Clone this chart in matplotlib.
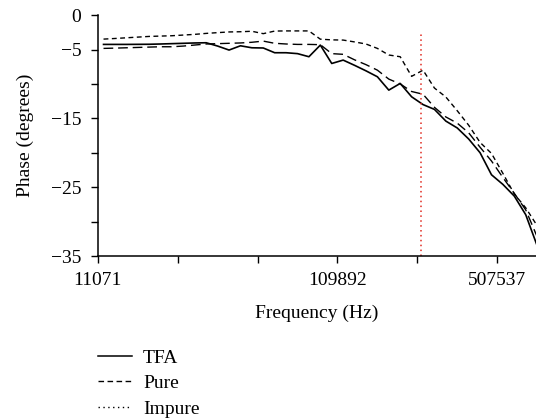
# Phase vs frequency for TFA, pure and impure samples

import numpy as np
import matplotlib.pyplot as plt
from matplotlib.lines import Line2D

plt.rcParams['font.family'] = ['Liberation Serif', 'DejaVu Serif']
plt.rcParams['font.size'] = 14

# Phase in degrees, one value per frequency step
TFA = [-4.26, -4.26, -4.26, -4.25, -4.24, -4.2, -4.15, -4.1, -4.05, -4.02,
       -4.5, -5.08, -4.46, -4.75, -4.78, -5.47, -5.47, -5.6, -6.05, -4.36,
       -7.03, -6.54, -7.3, -8.1, -8.96, -10.9, -9.93, -11.87, -13.0, -13.7,
       -15.4, -16.4, -18.0, -20.0, -23.2, -24.6, -26.3, -29.0, -33.5]
Pure = [-4.84, -4.8, -4.75, -4.7, -4.65, -4.6, -4.6, -4.5, -4.35, -4.2,
        -4.15, -4.1, -4.05, -3.95, -3.78, -4.1, -4.2, -4.26, -4.26, -4.3,
        -5.6, -5.7, -6.5, -7.2, -8.0, -9.3, -10.0, -11.1, -11.5, -13.4,
        -14.8, -15.7, -17.1, -19.2, -21.2, -23.6, -25.9, -28.3, -32.2]
Impure = [-3.49, -3.4, -3.3, -3.2, -3.1, -3.05, -3.0, -2.9, -2.8, -2.66,
          -2.55, -2.45, -2.42, -2.35, -2.7, -2.32, -2.3, -2.3, -2.3, -3.5,
          -3.6, -3.63, -3.9, -4.2, -4.84, -5.8, -6.05, -8.9, -8.0, -10.6,
          -11.9, -13.9, -16.0, -18.5, -20.1, -23.0, -26.0, -28.0, -30.6]

TickIdx = [0, 7, 14, 21, 28, 35]          # category boundaries with tick marks
TickLab = ['11071', '', '', '109892', '', '507537']
YTicks = [0, -5, -10, -15, -20, -25, -30, -35]
YLab = ['0', '\u22125', '', '\u221215', '', '\u221225', '', '\u221235']
Marker = 28.35   # red reference line (category units)

x = np.arange(len(TFA)) + 0.5   # points sit between the category ticks

fig = plt.figure(figsize=(5.36, 4.19), dpi=100)
ax = fig.add_axes([0.1825, 0.389, 0.8175, 0.575])

ax.plot(x, TFA, color='black', linewidth=1.2)
ax.plot(x, Pure, color='black', linewidth=1.0, dashes=(7, 3.5))
ax.plot(x, Impure, color='black', linewidth=1.0, dashes=(3.5, 2.5))
ax.plot([Marker, Marker], [-35, -2.4], color='#e02a20', linewidth=1.1, dashes=(1, 2.2))

ax.set_xlim(0, 38.4)
ax.set_ylim(-35, 0)
ax.set_xticks(TickIdx)
ax.set_xticklabels(TickLab)
ax.set_yticks(YTicks)
ax.set_yticklabels(YLab)
ax.tick_params(direction='out', length=5, width=1, colors='black')
ax.tick_params(axis='x', pad=6.5)
ax.tick_params(axis='y', pad=7)
for s in ['top', 'right']:
    ax.spines[s].set_visible(False)
for s in ['left', 'bottom']:
    ax.spines[s].set_linewidth(1.1)

ax.set_xlabel('Frequency (Hz)', labelpad=11)
ax.set_ylabel('Phase (degrees)', labelpad=12)

# Legend below the plot
Handles = [Line2D([], [], color='black', linewidth=1.1),
           Line2D([], [], color='black', linewidth=1.0, dashes=(4, 2.5)),
           Line2D([], [], color='black', linewidth=1.0, dashes=(1, 2.5))]
fig.legend(Handles, ['TFA', 'Pure', 'Impure'], loc='upper left',
           bbox_to_anchor=(0.169, 0.185), frameon=False,
           handlelength=1.75, handletextpad=0.55, labelspacing=0.4,
           borderaxespad=0)

fig.savefig('out.png', dpi=100)
